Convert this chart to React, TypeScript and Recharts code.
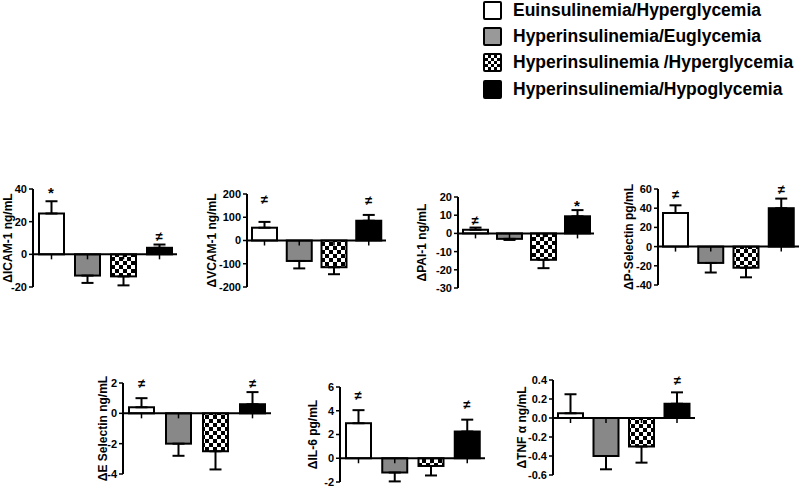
import { ComposedChart, Bar, ErrorBar, XAxis, YAxis, ReferenceLine, Scatter } from "recharts";

const FONT = '"Liberation Sans", Arial, sans-serif';

// groups (same order in every panel)
const groups = [
  "Euinsulinemia/Hyperglycemia",
  "Hyperinsulinemia/Euglycemia",
  "Hyperinsulinemia /Hyperglycemia",
  "Hyperinsulinemia/Hypoglycemia",
];

// ICAM-1
const icamMean = [25, -13, -13.5, 4];
const icamSem = [7.5, 4.5, 5.5, 2];
const icamMarks = ["*", "", "", "≠"];
const icamMarkAt = [38, null, null, 11];

// VCAM-1
const vcamMean = [55, -88, -115, 85];
const vcamSem = [25, 32, 30, 25];
const vcamMarks = ["≠", "", "", "≠"];
const vcamMarkAt = [176, null, null, 170];

// PAI-1
const paiMean = [2, -3, -14.5, 9.4];
const paiSem = [1.2, 0.6, 4.6, 3.4];
const paiMarks = ["≠", "", "", "*"];
const paiMarkAt = [7, null, null, 15.5];

// P-Selectin
const pselMean = [35, -17, -22, 40];
const pselSem = [8, 10, 10, 10];
const pselMarks = ["≠", "", "", "≠"];
const pselMarkAt = [54, null, null, 60];

// E Selectin
const eselMean = [0.4, -2.0, -2.5, 0.6];
const eselSem = [0.6, 0.8, 1.2, 0.8];
const eselMarks = ["≠", "", "", "≠"];
const eselMarkAt = [1.95, null, null, 1.95];

// IL-6
const il6Mean = [2.95, -1.2, -0.65, 2.25];
const il6Sem = [1.1, 0.75, 0.8, 1.0];
const il6Marks = ["≠", "", "", "≠"];
const il6MarkAt = [5.3, null, null, 4.5];

// TNF α
const tnfMean = [0.05, -0.4, -0.3, 0.15];
const tnfSem = [0.2, 0.14, 0.17, 0.12];
const tnfMarks = ["", "", "", "≠"];
const tnfMarkAt = [null, null, null, 0.4];

const FILLS = ["#ffffff", "#888888", "checker", "#000000"];
const LEGEND_FILLS = ["#ffffff", "#999999", "checker", "#000000"];

function BarShape(p: any) {
  const { x, y, width, height, index, pid, payload } = p;
  if (!Number.isFinite(x) || !Number.isFinite(y)) return <g />;
  const top = Math.min(y, y + height);
  const h = Math.abs(height);
  const base = payload.value < 0 ? top : top + h;
  const fill = FILLS[index] === "checker" ? `url(#${pid})` : FILLS[index];
  const cx = x + width / 2;
  return (
    <g>
      <rect x={x} y={top} width={width} height={h} fill={fill} stroke="#000" strokeWidth={2} />
      <line x1={cx} x2={cx} y1={base} y2={base + 5} stroke="#000" strokeWidth={1.5} />
    </g>
  );
}

function MarkShape(p: any) {
  const m = p.payload?.mark;
  if (!m || !Number.isFinite(p.cy)) return <g />;
  return (
    <text
      x={p.cx}
      y={p.cy}
      textAnchor="middle"
      dominantBaseline="central"
      fontFamily={FONT}
      fontWeight="bold"
      fontSize={m === "*" ? 15 : 13}
      fill="#000"
    >
      {m}
    </text>
  );
}

interface PanelProps {
  id: string;
  label: string;
  mean: number[];
  sem: number[];
  marks: string[];
  markAt: (number | null)[];
  domain: [number, number];
  ticks: number[];
  digits?: number;
  box: { left: number; right: number; top: number; bottom: number; dist: number };
}

function Panel({ id, label, mean, sem, marks, markAt, domain, ticks, digits = 0, box }: PanelProps) {
  const data = groups.map((g, i) => ({
    name: g,
    value: mean[i],
    err: mean[i] >= 0 ? [0, sem[i]] : [sem[i], 0],
    mark: marks[i],
    markAt: markAt[i],
  }));
  const AXW = 50;
  const padT = 12;
  const padB = 10;
  const padR = 3;
  const plotW = box.right - box.left;
  const plotH = box.bottom - box.top;
  const pid = `chk-${id}`;

  return (
    <div style={{ position: "absolute", left: box.left - AXW, top: box.top - padT }}>
      <ComposedChart
        width={AXW + plotW + padR}
        height={padT + plotH + padB}
        data={data}
        margin={{ top: padT, right: padR, bottom: padB, left: 0 }}
      >
        <defs>
          <pattern id={pid} width={8} height={8} patternUnits="userSpaceOnUse">
            <rect width={8} height={8} fill="#fff" />
            <rect width={4} height={4} fill="#000" />
            <rect x={4} y={4} width={4} height={4} fill="#000" />
          </pattern>
        </defs>
        <XAxis dataKey="name" hide />
        <YAxis
          width={AXW}
          domain={domain}
          ticks={ticks}
          interval={0}
          tickFormatter={(v: number) => v.toFixed(digits)}
          tick={{ fill: "#000", fontSize: 11, fontWeight: "bold", fontFamily: FONT }}
          tickLine={{ stroke: "#000", strokeWidth: 1.5 }}
          axisLine={{ stroke: "#000", strokeWidth: 2 }}
          tickSize={4}
          tickMargin={2}
          label={{
            value: label,
            angle: -90,
            position: "insideLeft",
            offset: AXW - box.dist,
            style: { textAnchor: "middle", fontWeight: "bold", fontSize: 12, fill: "#000", fontFamily: FONT },
          }}
        />
        <ReferenceLine y={0} stroke="#000" strokeWidth={2} />
        <Bar
          dataKey="value"
          barSize={25}
          isAnimationActive={false}
          shape={(p: any) => <BarShape {...p} pid={pid} />}
        >
          <ErrorBar dataKey="err" width={6} stroke="#000" strokeWidth={2} direction="y" />
        </Bar>
        <Scatter dataKey="markAt" isAnimationActive={false} shape={MarkShape} />
      </ComposedChart>
    </div>
  );
}

function LegendSwatch({ fill }: { fill: string }) {
  const bg =
    fill === "checker"
      ? "repeating-conic-gradient(#000 0% 25%, #fff 0% 50%) 0 0 / 6px 6px"
      : fill;
  return (
    <span
      style={{
        display: "inline-block",
        width: 19,
        height: 19,
        boxSizing: "border-box",
        border: "2.5px solid #000",
        borderRadius: 2,
        background: bg,
      }}
    />
  );
}

export default function App() {
  return (
    <div
      style={{
        position: "absolute",
        left: 0,
        top: 0,
        width: 800,
        height: 487,
        overflow: "hidden",
        background: "#fff",
      }}
    >
      <div style={{ position: "absolute", left: 483, top: -3, fontFamily: FONT, fontWeight: "bold", fontSize: 17.5 }}>
        {groups.map((g, i) => (
          <div key={g} style={{ display: "flex", alignItems: "center", height: 26.3 }}>
            <LegendSwatch fill={LEGEND_FILLS[i]} />
            <span style={{ marginLeft: 11, whiteSpace: "nowrap" }}>{g}</span>
          </div>
        ))}
      </div>

      <Panel id="icam" label="ΔICAM-1  ng/mL" mean={icamMean} sem={icamSem} marks={icamMarks} markAt={icamMarkAt}
        domain={[-20, 40]} ticks={[-20, 0, 20, 40]}
        box={{ left: 33, right: 177, top: 189, bottom: 287, dist: 25 }} />
      <Panel id="vcam" label="ΔVCAM-1 ng/mL" mean={vcamMean} sem={vcamSem} marks={vcamMarks} markAt={vcamMarkAt}
        domain={[-200, 200]} ticks={[-200, -100, 0, 100, 200]}
        box={{ left: 247, right: 386, top: 194, bottom: 287, dist: 35 }} />
      <Panel id="pai" label="ΔPAI-1 ng/mL" mean={paiMean} sem={paiSem} marks={paiMarks} markAt={paiMarkAt}
        domain={[-30, 20]} ticks={[-30, -20, -10, 0, 10, 20]}
        box={{ left: 458, right: 594, top: 197, bottom: 288, dist: 36 }} />
      <Panel id="psel" label="ΔP-Selectin pg/mL" mean={pselMean} sem={pselSem} marks={pselMarks} markAt={pselMarkAt}
        domain={[-40, 60]} ticks={[-40, -20, 0, 20, 40, 60]}
        box={{ left: 658, right: 799, top: 189, bottom: 285, dist: 29 }} />
      <Panel id="esel" label="ΔE Selectin ng/mL" mean={eselMean} sem={eselSem} marks={eselMarks} markAt={eselMarkAt}
        domain={[-4, 2]} ticks={[-4, -2, 0, 2]}
        box={{ left: 123, right: 271, top: 383, bottom: 474, dist: 20 }} />
      <Panel id="il6" label="ΔIL-6 pg/mL" mean={il6Mean} sem={il6Sem} marks={il6Marks} markAt={il6MarkAt}
        domain={[-2, 6]} ticks={[-2, 0, 2, 4, 6]}
        box={{ left: 340, right: 485, top: 387, bottom: 482, dist: 27 }} />
      <Panel id="tnf" label="ΔTNF α ng/mL" mean={tnfMean} sem={tnfSem} marks={tnfMarks} markAt={tnfMarkAt}
        domain={[-0.6, 0.4]} ticks={[-0.6, -0.4, -0.2, 0, 0.2, 0.4]} digits={1}
        box={{ left: 553, right: 695, top: 380, bottom: 475, dist: 31 }} />
    </div>
  );
}
